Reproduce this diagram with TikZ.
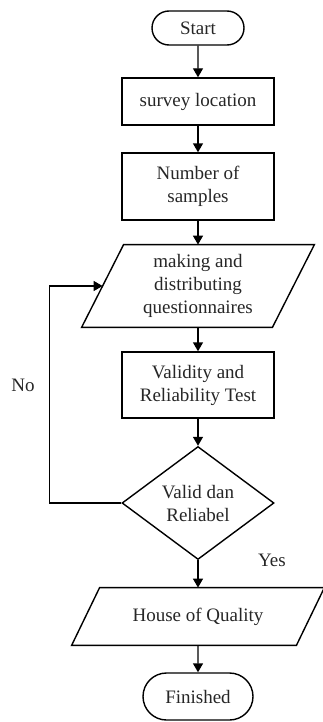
\documentclass[tikz,border=0pt]{standalone}
\usepackage{fontspec}
\setmainfont{Liberation Serif}
\usetikzlibrary{shapes.geometric,shapes.misc,arrows.meta}
\begin{document}
\begin{tikzpicture}[x=1pt,y=1pt,
		font=\fontsize{9.5}{11.5}\selectfont,
		every node/.style={text=black!85, align=center, inner sep=1pt},
		line/.style={line width=0.7pt},
		box/.style={line, draw, rectangle, minimum width=76pt},
		term/.style={line, draw, rounded rectangle},
		io/.style={rectangle},
		decide/.style={line, draw, diamond, minimum width=76pt, minimum height=56.5pt, inner sep=0pt},
		flow/.style={line, -{Triangle[length=4.5pt,width=5pt]}}]
			\useasboundingbox (0,0) rectangle (161,-361);
			% terminals and steps
			\node[term, minimum width=48pt, minimum height=17pt] (start) at (99,-14) {Start};
			\node[box, minimum height=23.5pt] (survey) at (99,-50.75) {survey location};
			\node[box, minimum height=33.5pt] (samples) at (99,-93.25) {Number of\\samples};
			\node[io, minimum width=95pt, minimum height=41pt] (quest) at (99,-143) {making and\\distributing\\questionnaires};
			\node[box, minimum height=33pt] (valid) at (99,-192.5) {Validity and\\Reliability Test};
			\node[decide] (dia) at (99,-251.5) {Valid dan\\Reliabel};
			\node[io, minimum width=112pt, minimum height=28.5pt] (hoq) at (99,-308.25) {House of Quality};
			\node[term, minimum width=57pt, minimum height=23.5pt] (fin) at (99,-348.25) {Finished};
			% slanted outlines for input/output
			\foreach \n/\s in {quest/10.5, hoq/7}
				\draw[line] ([xshift=\s pt]\n.north west) -- ([xshift=\s pt]\n.north east)
					-- ([xshift=-\s pt]\n.south east) -- ([xshift=-\s pt]\n.south west) -- cycle;
			% labels
			\node (no) at (11.5,-192.5) {No};
			\node (yes) at (136,-280) {Yes};
			% main flow
			\foreach \a/\b in {start/survey, survey/samples, samples/quest, quest/valid, valid/dia, dia/hoq, hoq/fin}
				\draw[flow] (\a) -- (\b);
			% loop back
			\draw[flow] (dia.west) -- ++(-36,0) |- (quest.west);
		\end{tikzpicture}
\end{document}
